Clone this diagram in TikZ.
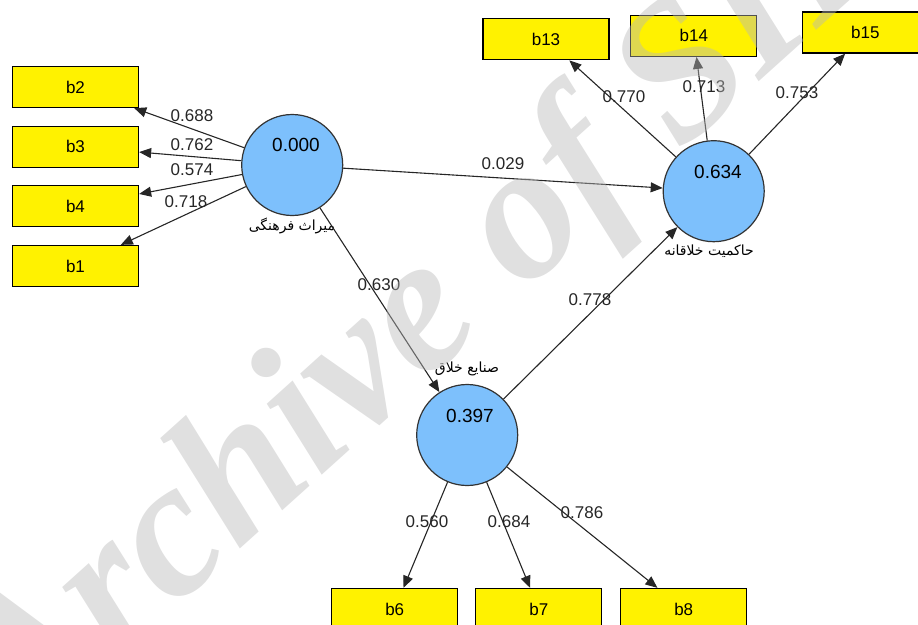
\documentclass[tikz,border=0pt]{standalone}
\usepackage{fontspec}
\setmainfont{Liberation Sans}
\newfontfamily\arabicfont[Script=Arabic]{DejaVu Sans}
\newfontfamily\wmfont{Liberation Serif}
\TeXXeTstate=1
\usetikzlibrary{arrows.meta}
\definecolor{lvblue}{RGB}{125,192,252}
\definecolor{wmgray}{RGB}{184,184,184}
\tikzset{
  ind/.style={draw=black, line width=1.3pt, fill=yellow, minimum width=126pt, minimum height=41pt, inner sep=0pt, font=\fontsize{17}{17}\selectfont},
  lv/.style={circle, draw=black!80, line width=1.2pt, fill=lvblue, minimum size=101pt, inner sep=0pt},
  val/.style={font=\fontsize{19}{19}\selectfont, inner sep=0pt},
  lbl/.style={font=\fontsize{17}{17}\selectfont, text=black!85, inner sep=0pt},
  arl/.style={font=\arabicfont\fontsize{14}{14}\selectfont, inner sep=0pt},
  conn/.style={draw=black!85, line width=1.1pt, -{Triangle[length=12pt,width=10pt]}},
}
\begin{document}
\begin{tikzpicture}[x=1pt,y=-1pt]
\useasboundingbox (0,0) rectangle (918,624);
% indicators
\node[ind] (b2) at (75.5,87) {b2};
\node[ind] (b3) at (75.5,146.7) {b3};
\node[ind] (b4) at (75.5,206) {b4};
\node[ind] (b1) at (75.5,266) {b1};
\node[ind] (b13) at (546,39.2) {b13};
\node[ind] (b14) at (693.8,35.8) {b14};
\node[ind] (b15) at (865.3,32.5) {b15};
\node[ind] (b6) at (394.7,609) {b6};
\node[ind] (b7) at (538.8,609) {b7};
\node[ind] (b8) at (683.7,609) {b8};
% latent variables
\node[lv] (c1) at (292.2,165) {};
\node[lv] (c2) at (713.7,191.2) {};
\node[lv] (c3) at (467.2,435) {};
\node[val] (v1) at (296,145) {0.000};
\node[val] (v2) at (718,172) {0.634};
\node[val] (v3) at (470,416) {0.397};
\node[arl] (n1) at (292,226) {\beginR میراث فرهنگی\endR};
\node[arl] (n2) at (709,251) {\beginR حاکمیت خلاقانه\endR};
\node[arl] (n3) at (467,369) {\beginR صنایع خلاق\endR};
% connectors
\draw[conn] (c1) -- (b2);
\draw[conn] (c1) -- (b3);
\draw[conn] (c1) -- (b4);
\draw[conn] (c1) -- (b1);
\draw[conn] (c2) -- (b13);
\draw[conn] (c2) -- (b14);
\draw[conn] (c2) -- (b15);
\draw[conn] (c3) -- (b6);
\draw[conn] (c3) -- (b7);
\draw[conn] (c3) -- (b8);
\draw[conn] (c1) -- (c2);
\draw[conn] (c1) -- (c3);
\draw[conn] (c3) -- (c2);
% path labels
\node[lbl] (l1) at (192,116) {0.688};
\node[lbl] (l2) at (192,145) {0.762};
\node[lbl] (l3) at (192,170) {0.574};
\node[lbl] (l4) at (186,202) {0.718};
\node[lbl] (l5) at (624,97) {0.770};
\node[lbl] (l6) at (704,87) {0.713};
\node[lbl] (l7) at (797,93) {0.753};
\node[lbl] (l8) at (503,164) {0.029};
\node[lbl] (l9) at (379,285) {0.630};
\node[lbl] (l10) at (590,300) {0.778};
\node[lbl] (l11) at (427,522) {0.560};
\node[lbl] (l12) at (509,522) {0.684};
\node[lbl] (l13) at (582,513) {0.786};
% watermark
\node[anchor=base, rotate=42, text=wmgray, opacity=0.44, inner sep=0pt,
      font=\wmfont\bfseries\itshape\fontsize{195}{195}\selectfont] (wm) at (471,341) {Archive of SID};
\end{tikzpicture}
\end{document}
